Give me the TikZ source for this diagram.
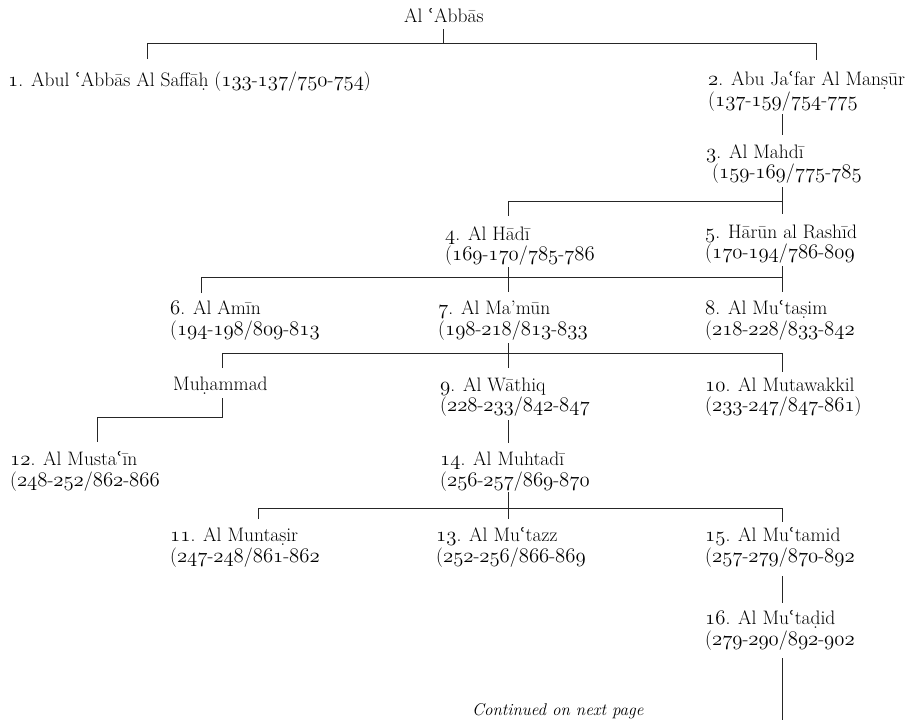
\documentclass[tikz,border=0pt]{standalone}
\usepackage{fontspec}
\newfontfamily\ainfont[Scale=0.95]{DejaVu Serif}
\newcommand\ay{\smash{\ainfont ʿ}}
\newcommand\os[1]{{\usefont{OML}{cmm}{m}{it}#1}}
\begin{document}
\begin{tikzpicture}[x=1pt,y=-1pt,
  lbl/.style={inner sep=0pt, anchor=base west, font=\fontsize{19.5}{20}\selectfont},
  note/.style={inner sep=0pt, anchor=base west, font=\fontsize{17}{18}\selectfont\itshape},
  conn/.style={line width=1pt, draw=black!85}]
\useasboundingbox (0,0) rectangle (910,720);
% names
\node[lbl] (abbas) at (404,22) {Al \ay Abbās};
\node[lbl] (n1) at (8,86) {\os{1}. Abul \ay Abbās Al Saffāḥ (\os{133}-\os{137}/\os{750}-\os{754})};
\node[lbl] (n2) at (708,85) {\os{2}. Abu Ja\ay far Al Manṣūr};
\node[lbl] (n2d) at (708,106) {(\os{137}-\os{159}/\os{754}-\os{775}};
\node[lbl] (n3) at (706,158) {\os{3}. Al Mahdī};
\node[lbl] (n3d) at (712,178) {(\os{159}-\os{169}/\os{775}-\os{785}};
\node[lbl] (n4) at (445,240) {\os{4}. Al Hādī};
\node[lbl] (n4d) at (445,260) {(\os{169}-\os{170}/\os{785}-\os{786}};
\node[lbl] (n5) at (705,238) {\os{5}. Hārūn al Rashīd};
\node[lbl] (n5d) at (705,258) {(\os{170}-\os{194}/\os{786}-\os{809}};
\node[lbl] (n6) at (170,314) {\os{6}. Al Amīn};
\node[lbl] (n6d) at (170,335) {(\os{194}-\os{198}/\os{809}-\os{813}};
\node[lbl] (n7) at (438,314) {\os{7}. Al Ma'mūn};
\node[lbl] (n7d) at (438,335) {(\os{198}-\os{218}/\os{813}-\os{833}};
\node[lbl] (n8) at (705,314) {\os{8}. Al Mu\ay taṣim};
\node[lbl] (n8d) at (705,335) {(\os{218}-\os{228}/\os{833}-\os{842}};
\node[lbl] (muh) at (173,390) {Muḥammad};
\node[lbl] (n9) at (440,391) {\os{9}. Al Wāthiq};
\node[lbl] (n9d) at (440,411) {(\os{228}-\os{233}/\os{842}-\os{847}};
\node[lbl] (n10) at (705,391) {\os{10}. Al Mutawakkil};
\node[lbl] (n10d) at (705,411) {(\os{233}-\os{247}/\os{847}-\os{861})};
\node[lbl] (n12) at (10,465) {\os{12}. Al Musta\ay īn};
\node[lbl] (n12d) at (10,486) {(\os{248}-\os{252}/\os{862}-\os{866}};
\node[lbl] (n14) at (440,465) {\os{14}. Al Muhtadī};
\node[lbl] (n14d) at (440,486) {(\os{256}-\os{257}/\os{869}-\os{870}};
\node[lbl] (n11) at (170,541) {\os{11}. Al Muntaṣir};
\node[lbl] (n11d) at (170,562) {(\os{247}-\os{248}/\os{861}-\os{862}};
\node[lbl] (n13) at (436,541) {\os{13}. Al Mu\ay tazz};
\node[lbl] (n13d) at (436,562) {(\os{252}-\os{256}/\os{866}-\os{869}};
\node[lbl] (n15) at (705,541) {\os{15}. Al Mu\ay tamid};
\node[lbl] (n15d) at (705,562) {(\os{257}-\os{279}/\os{870}-\os{892}};
\node[lbl] (n16) at (705,624) {\os{16}. Al Mu\ay taḍid};
\node[lbl] (n16d) at (705,645) {(\os{279}-\os{290}/\os{892}-\os{902}};
\node[note] (cont) at (472,715) {Continued on next page};
% junction coordinates
\coordinate (a0) at (443,29);
\coordinate (a1) at (443,43);
\coordinate (aL) at (147,43);
\coordinate (aL2) at (147,59);
\coordinate (aR) at (816,43);
\coordinate (aR2) at (816,60);
\coordinate (b0) at (782,114);
\coordinate (b1) at (782,135);
\coordinate (c0) at (782,187);
\coordinate (c1) at (782,201);
\coordinate (c2) at (782,214);
\coordinate (cL) at (508,201);
\coordinate (cL2) at (508,216);
\coordinate (d0) at (508,267);
\coordinate (d1) at (508,277);
\coordinate (d2) at (508,292);
\coordinate (dL) at (201,277);
\coordinate (dL2) at (201,293);
\coordinate (dR0) at (782,266);
\coordinate (dR) at (782,277);
\coordinate (dR2) at (782,292);
\coordinate (e0) at (508,343);
\coordinate (e1) at (508,353);
\coordinate (e2) at (508,368);
\coordinate (eL) at (222,353);
\coordinate (eL2) at (222,368);
\coordinate (eR) at (782,353);
\coordinate (eR2) at (782,372);
\coordinate (f0) at (222,398);
\coordinate (f1) at (222,417);
\coordinate (fL) at (97,417);
\coordinate (fL2) at (97,442);
\coordinate (g0) at (508,420);
\coordinate (g1) at (508,443);
\coordinate (h0) at (508,492);
\coordinate (h1) at (508,508);
\coordinate (h2) at (508,519);
\coordinate (hL) at (258,508);
\coordinate (hL2) at (258,519);
\coordinate (hR) at (782,508);
\coordinate (hR2) at (782,522);
\coordinate (i0) at (782,576);
\coordinate (i1) at (782,603);
\coordinate (j0) at (782,658);
\coordinate (j1) at (782,720);
% connectors
\draw[conn] (a0) -- (a1);
\draw[conn] (aL2) -- (aL) -- (aR) -- (aR2);
\draw[conn] (b0) -- (b1);
\draw[conn] (c0) -- (c2);
\draw[conn] (c1) -- (cL) -- (cL2);
\draw[conn] (d0) -- (d2);
\draw[conn] (dL2) -- (dL) -- (dR);
\draw[conn] (dR0) -- (dR2);
\draw[conn] (e0) -- (e2);
\draw[conn] (eL2) -- (eL) -- (eR) -- (eR2);
\draw[conn] (f0) -- (f1) -- (fL) -- (fL2);
\draw[conn] (g0) -- (g1);
\draw[conn] (h0) -- (h2);
\draw[conn] (hL2) -- (hL) -- (hR) -- (hR2);
\draw[conn] (i0) -- (i1);
\draw[conn] (j0) -- (j1);
\end{tikzpicture}
\end{document}
